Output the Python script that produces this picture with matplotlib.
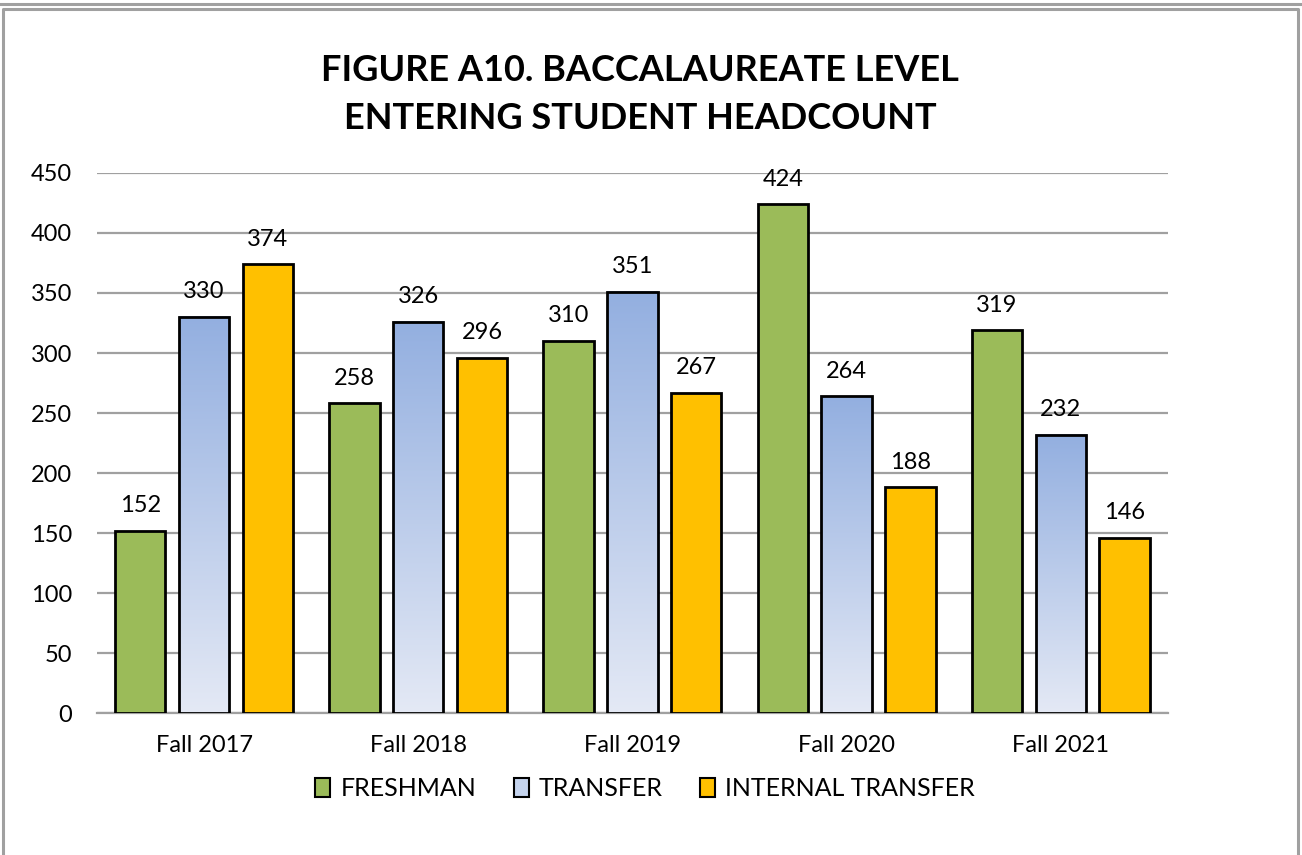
import numpy as np
import matplotlib
matplotlib.use('Agg')
import matplotlib.pyplot as plt
from matplotlib.patches import Rectangle
from matplotlib.lines import Line2D
from matplotlib.colors import LinearSegmentedColormap

plt.rcParams['font.family'] = ['Lato', 'DejaVu Sans']

terms = ['Fall 2017', 'Fall 2018', 'Fall 2019', 'Fall 2020', 'Fall 2021']
freshman = [152, 258, 310, 424, 319]
transfer = [330, 326, 351, 264, 232]
internal = [374, 296, 267, 188, 146]
series_names = ['FRESHMAN', 'TRANSFER', 'INTERNAL TRANSFER']

green = '#9BBB59'
gold = '#FFC000'
blue_grad = LinearSegmentedColormap.from_list('bg', ['#E4E9F5', '#93AFE0'])

fig = plt.figure(figsize=(13.02, 8.55), dpi=100)
ax = fig.add_axes([0.0745, 0.166, 0.8225, 0.6317])

x = np.arange(len(terms))
w = 0.235
step = 0.298

grad = np.linspace(0, 1, 256).reshape(-1, 1)

b1 = ax.bar(x - step, freshman, w, color=green, edgecolor='black', linewidth=2, zorder=3)
b2 = ax.bar(x, transfer, w, color='none', edgecolor='black', linewidth=2, zorder=4)
for rect in b2:
    x0 = rect.get_x()
    h = rect.get_height()
    ax.imshow(grad, cmap=blue_grad, origin='lower', aspect='auto',
              extent=(x0, x0 + w, 0, h), zorder=3)
b3 = ax.bar(x + step, internal, w, color=gold, edgecolor='black', linewidth=2, zorder=3)
ax.set_xlim(-0.5, len(terms) - 0.5)
ax.set_ylim(0, 450)

for bars, vals in [(b1, freshman), (b2, transfer), (b3, internal)]:
    for rect, v in zip(bars, vals):
        ax.annotate(str(v), (rect.get_x() + rect.get_width() / 2, v),
                    xytext=(0, 10.5), textcoords='offset points',
                    ha='center', va='bottom', fontsize=17)

ax.set_yticks(np.arange(0, 451, 50))
ax.yaxis.grid(True, color='#A0A0A0', linewidth=1.6, zorder=0)
ax.set_axisbelow(True)
for s in ['top', 'right', 'left']:
    ax.spines[s].set_visible(False)
ax.spines['bottom'].set_color('#A0A0A0')
ax.spines['bottom'].set_linewidth(1.6)
ax.set_xticks(x)
ax.set_xticklabels(terms)
ax.tick_params(axis='y', length=0, pad=18, labelsize=17)
ax.tick_params(axis='x', length=0, pad=16, labelsize=17)

fig.text(0.4916, 0.889, 'FIGURE A10. BACCALAUREATE LEVEL\nENTERING STUDENT HEADCOUNT',
         ha='center', va='center', fontsize=26, fontweight='bold', linespacing=1.55)

handles = [Rectangle((0, 0), 1, 1, facecolor=green, edgecolor='black', linewidth=1.5),
           Rectangle((0, 0), 1, 1, facecolor='#C5D4EE', edgecolor='black', linewidth=1.5),
           Rectangle((0, 0), 1, 1, facecolor=gold, edgecolor='black', linewidth=1.5)]
fig.legend(handles, series_names, loc='center', bbox_to_anchor=(0.4955, 0.0772),
           ncol=3, frameon=False, fontsize=18, handlelength=0.6, handleheight=0.8,
           handletextpad=0.4, columnspacing=1.5)

# outer frame
fig.add_artist(Line2D([0, 1], [1 - 4 / 855, 1 - 4 / 855], color='#A0A0A0', linewidth=2.2))
fig.add_artist(Line2D([3 / 1302, 3 / 1302, 1298 / 1302, 1298 / 1302],
                      [0, 1 - 9 / 855, 1 - 9 / 855, 0], color='#A0A0A0', linewidth=2.2))

fig.savefig('out.png', dpi=100)
